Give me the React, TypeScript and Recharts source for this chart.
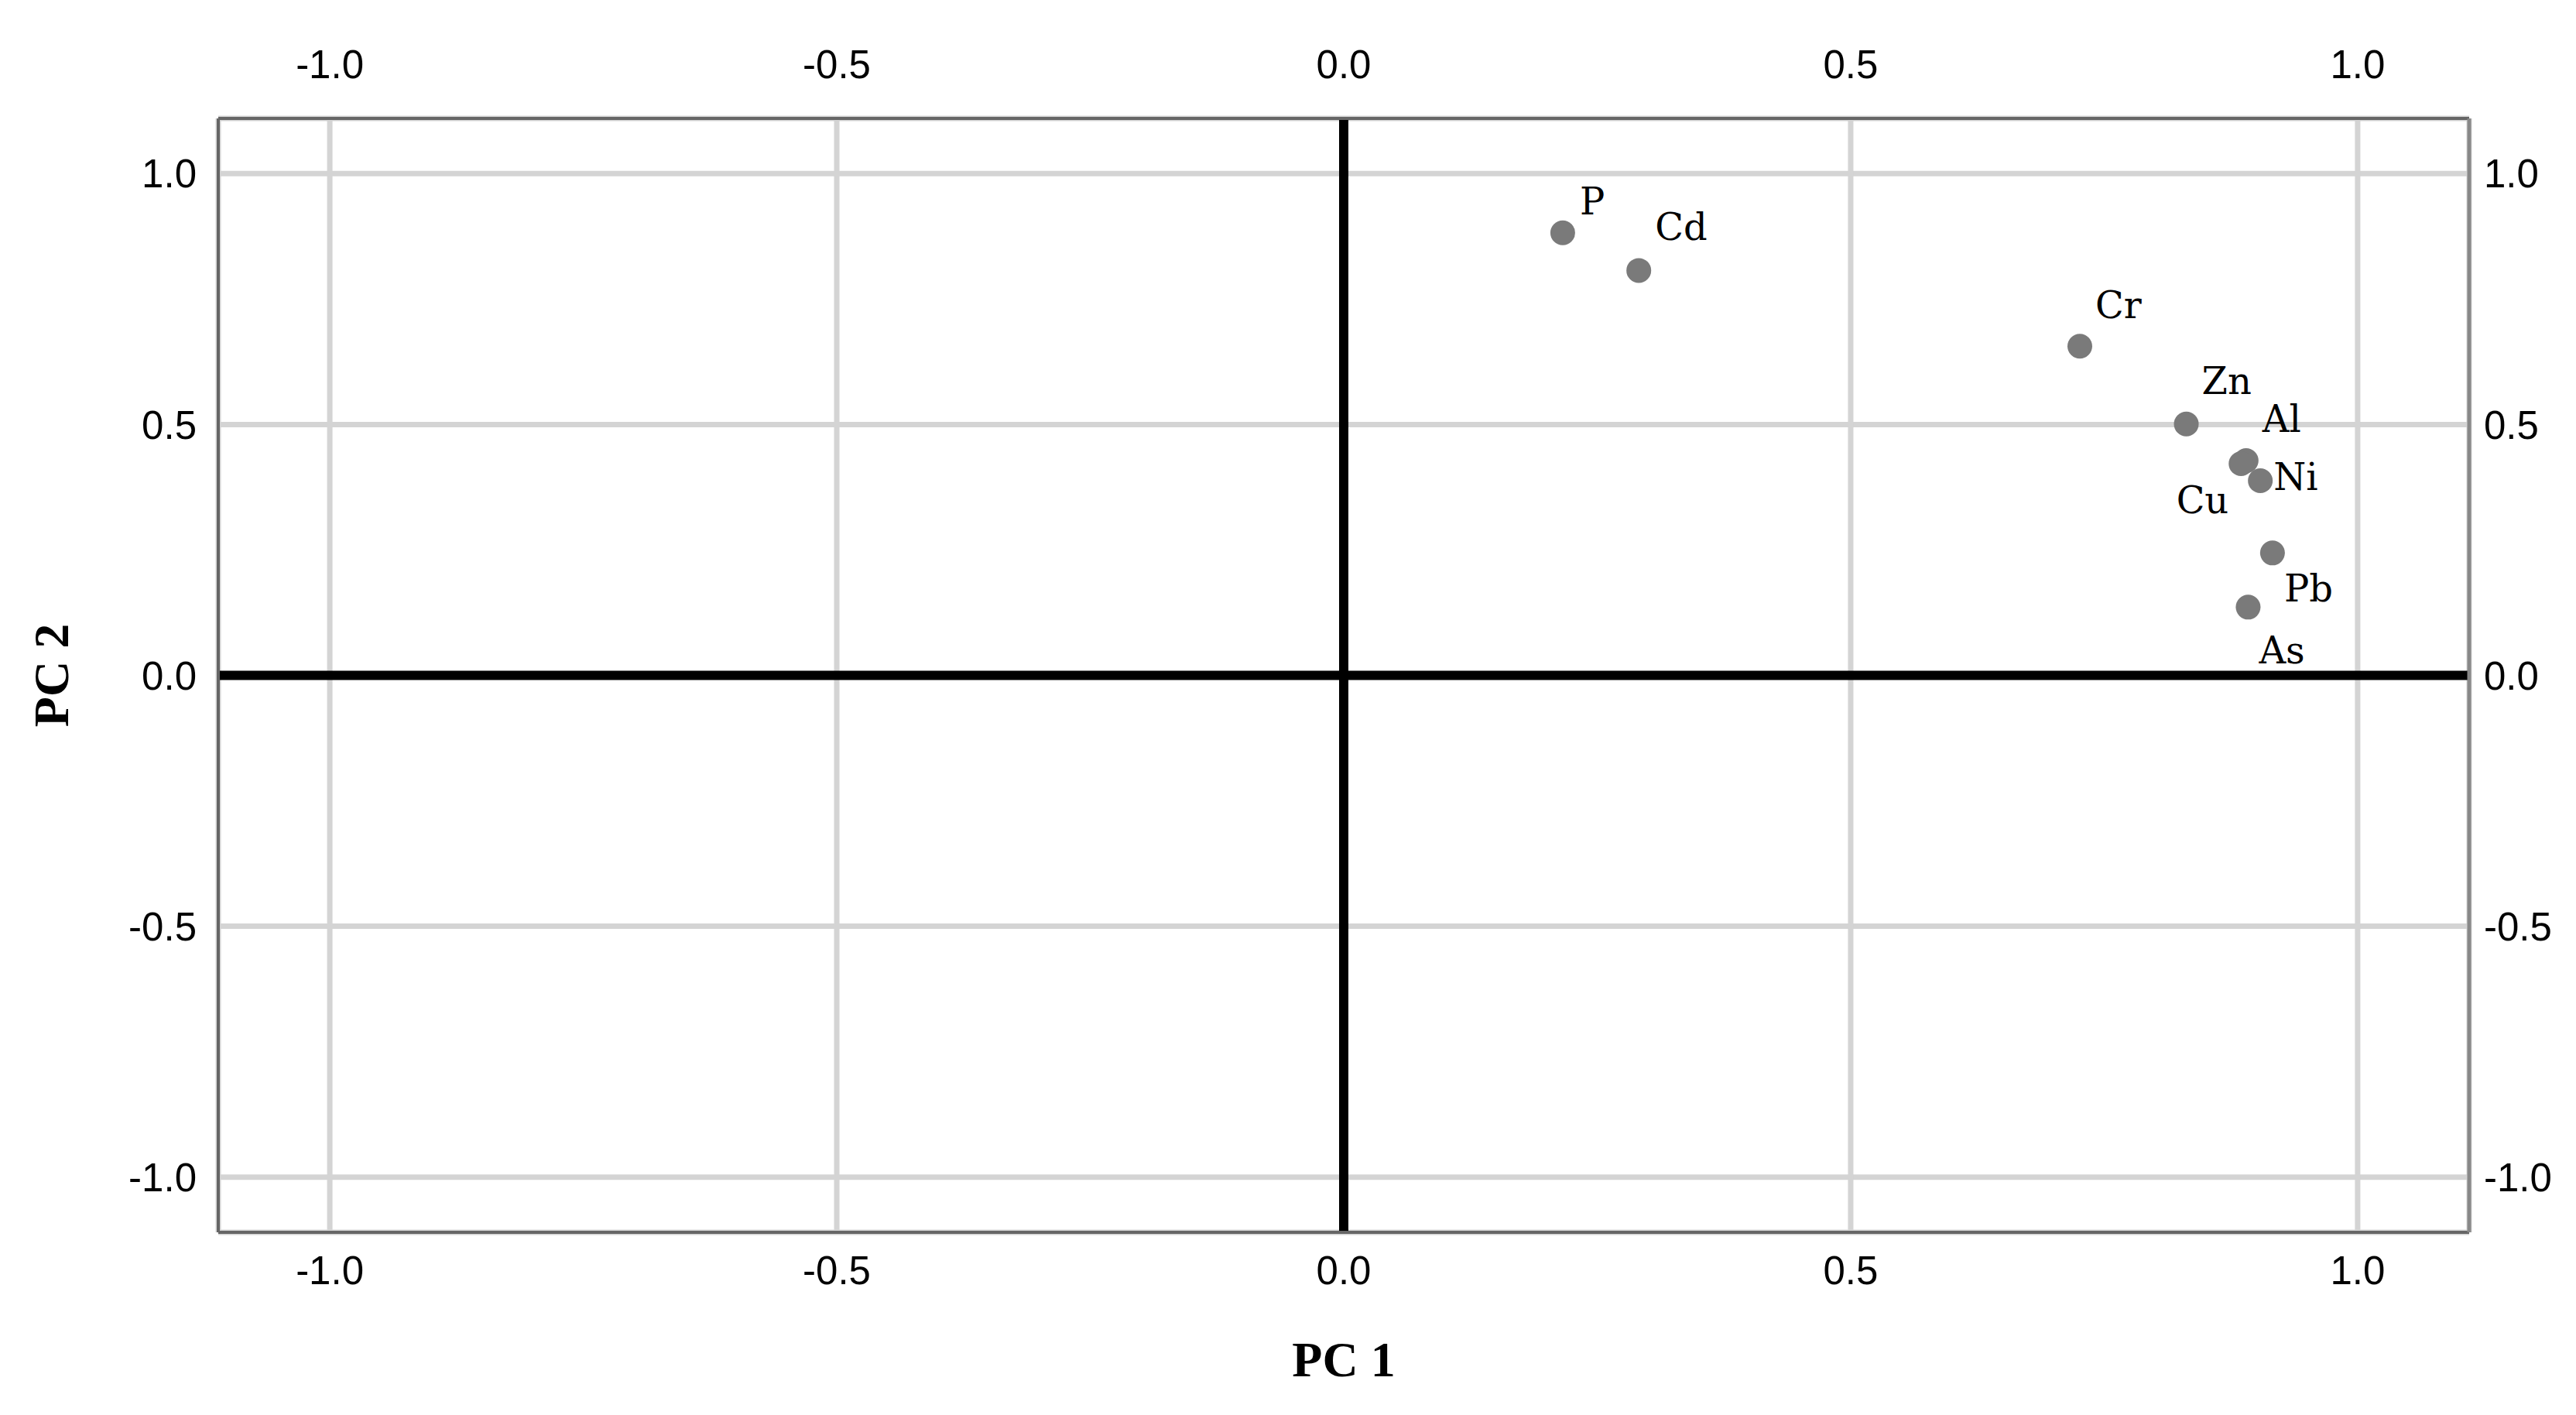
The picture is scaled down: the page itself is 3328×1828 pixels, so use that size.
import {
  ScatterChart,
  Scatter,
  XAxis,
  YAxis,
  CartesianGrid,
  ReferenceLine,
  Label,
} from "recharts";

const ELEMENTS = ["P", "Cd", "Cr", "Zn", "Al", "Cu", "Ni", "Pb", "As"];
const PC1 = [0.216, 0.291, 0.726, 0.831, 0.89, 0.885, 0.904, 0.916, 0.892];
const PC2 = [0.882, 0.807, 0.656, 0.501, 0.428, 0.422, 0.388, 0.244, 0.136];
const TICKS = [-1, -0.5, 0, 0.5, 1];
const DOMAIN: [number, number] = [-1.11, 1.11];

// name placement next to each dot: dx, dy from the dot centre, text anchor
const LABEL_POS: Record<string, [number, number, "start" | "end"]> = {
  P: [22, -24, "start"],
  Cd: [21, -39, "start"],
  Cr: [20, -36, "start"],
  Zn: [20, -39, "start"],
  Al: [21, -37, "start"],
  Cu: [-16, 64, "end"],
  Ni: [17, 12, "start"],
  Pb: [15, 63, "start"],
  As: [14, 73, "start"],
};

const points = ELEMENTS.map((name, i) => ({ name, x: PC1[i], y: PC2[i] }));

const tickStyle = { fontFamily: "Liberation Sans", fontSize: 51, fill: "#000" };
const frame = { stroke: "#666", strokeWidth: 4 };
const fmt = (v: number) => v.toFixed(1);

const Dot = (props: any) => {
  const { cx, cy, payload } = props;
  const [dx, dy, anchor] = LABEL_POS[payload.name];
  return (
    <g>
      <circle cx={cx} cy={cy} r={16} fill="#7a7a7a" />
      <text
        x={cx + dx}
        y={cy + dy}
        textAnchor={anchor}
        fontFamily="DejaVu Serif"
        fontSize={48}
        fill="#000"
      >
        {payload.name}
      </text>
    </g>
  );
};

const YTitle = (props: any) => {
  const { viewBox } = props;
  const cx = viewBox.x - 136;
  const cy = viewBox.y + viewBox.height / 2;
  return (
    <text
      x={cx}
      y={cy + 22}
      transform={`rotate(-90, ${cx}, ${cy})`}
      textAnchor="middle"
      fontFamily="Liberation Serif"
      fontWeight="bold"
      fontSize={64}
      fill="#000"
    >
      PC 2
    </text>
  );
};

export default function App() {
  return (
    <div
      style={{
        position: "absolute",
        left: 0,
        top: 0,
        width: 3328,
        height: 1828,
        background: "#fff",
      }}
    >
      <ScatterChart
        width={3328}
        height={1828}
        margin={{ top: 93, right: 58, bottom: 176, left: 202 }}
      >
        <CartesianGrid stroke="#d4d4d4" strokeWidth={7} />
        <XAxis
          type="number"
          dataKey="x"
          domain={DOMAIN}
          allowDataOverflow
          ticks={TICKS}
          interval={0}
          tickFormatter={fmt}
          height={60}
          tickSize={0}
          tickMargin={31}
          tick={tickStyle}
          axisLine={frame}
        >
          <Label
            value="PC 1"
            position="bottom"
            offset={81}
            style={{
              fontFamily: "Liberation Serif",
              fontWeight: "bold",
              fontSize: 64,
              fill: "#000",
            }}
          />
        </XAxis>
        <XAxis
          xAxisId="top"
          orientation="top"
          type="number"
          dataKey="x"
          domain={DOMAIN}
          allowDataOverflow
          ticks={TICKS}
          interval={0}
          tickFormatter={fmt}
          height={60}
          tickSize={0}
          tickMargin={52}
          tick={tickStyle}
          axisLine={frame}
        />
        <YAxis
          type="number"
          dataKey="y"
          domain={DOMAIN}
          allowDataOverflow
          ticks={TICKS}
          interval={0}
          tickFormatter={fmt}
          width={80}
          tickSize={0}
          tickMargin={28}
          tick={tickStyle}
          axisLine={frame}
        >
          <Label content={<YTitle />} />
        </YAxis>
        <YAxis
          yAxisId="right"
          orientation="right"
          type="number"
          dataKey="y"
          domain={DOMAIN}
          allowDataOverflow
          ticks={TICKS}
          interval={0}
          tickFormatter={fmt}
          width={80}
          tickSize={0}
          tickMargin={19}
          tick={tickStyle}
          axisLine={{ stroke: "#888", strokeWidth: 5 }}
        />
        <ReferenceLine x={0} stroke="#000" strokeWidth={12} />
        <ReferenceLine y={0} stroke="#000" strokeWidth={12} />
        <Scatter data={points} shape={<Dot />} isAnimationActive={false} />
      </ScatterChart>
    </div>
  );
}
